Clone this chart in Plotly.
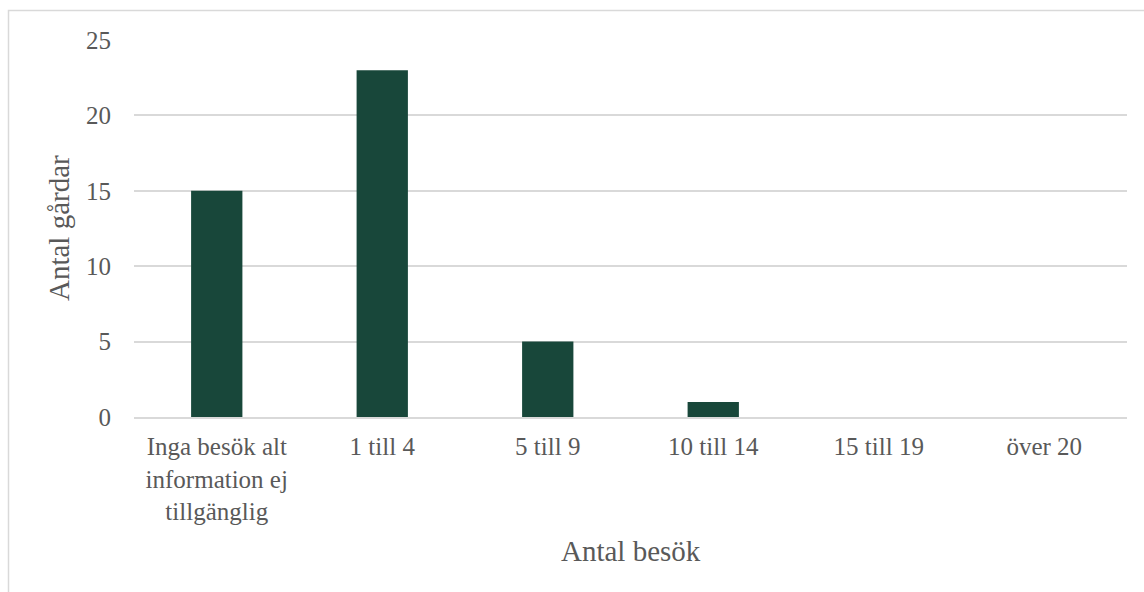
import plotly.graph_objects as go

categories = ["Inga besök alt<br>information ej<br>tillgänglig", "1 till 4", "5 till 9", "10 till 14", "15 till 19", "över 20"]
values = [15, 23, 5, 1, 0, 0]
y_ticks = [0, 5, 10, 15, 20, 25]

font_family = "Liberation Serif"
text_color = "#595959"
tick_font = dict(family=font_family, size=25, color=text_color)
title_font = dict(family=font_family, size=29, color=text_color)

W, H = 1144, 592
l, r, t, b = 134, 17, 40, 175
pw, ph = W - l - r, H - t - b

fig = go.Figure(go.Bar(x=categories, y=values, marker=dict(color="#18473a", line=dict(width=0)), width=0.31))

fig.update_layout(
    width=W, height=H,
    margin=dict(l=l, r=r, t=t, b=b),
    paper_bgcolor="white", plot_bgcolor="white",
    font=dict(family=font_family, size=25, color=text_color),
    showlegend=False,
    xaxis=dict(showgrid=False, showline=True, linecolor="#d9d9d9", linewidth=2,
               tickfont=tick_font, ticks="", ticklabelstandoff=6),
    yaxis=dict(range=[0, 25], tickvals=y_ticks, showgrid=True, gridcolor="#d9d9d9", gridwidth=1.5,
               zeroline=False, showline=False, ticks="", ticklabelstandoff=22,
               tickfont=tick_font),
    annotations=[
        dict(text="Antal gårdar", x=(59 - l) / pw, y=(H - b - 228) / ph, xref="paper", yref="paper",
             xanchor="center", yanchor="middle",
             showarrow=False, textangle=-90, font=title_font),
        dict(text="Antal besök", x=(631 - l) / pw, y=(H - b - 551) / ph, xref="paper", yref="paper",
             xanchor="center", yanchor="middle",
             showarrow=False, font=title_font),
    ],
)

fig.add_shape(type="rect", xref="paper", yref="paper",
              x0=(8.5 - l) / pw, x1=(1160 - l) / pw, y0=(H - b - 610) / ph, y1=(H - b - 10.5) / ph,
              line=dict(color="#d9d9d9", width=1.5), fillcolor="rgba(0,0,0,0)", layer="below")

fig.write_html("out.html")
